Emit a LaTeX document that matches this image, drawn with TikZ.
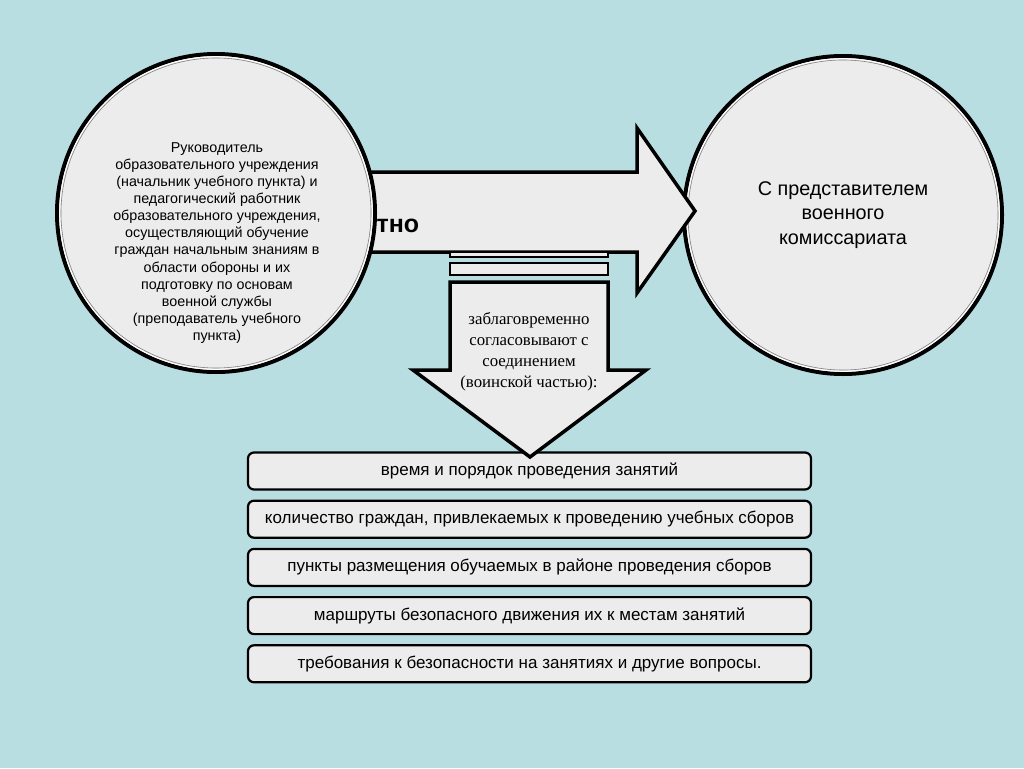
\documentclass[tikz,border=0pt]{standalone}
\usepackage{fontspec}
\setmainfont{Liberation Sans}
\newfontfamily\serifru{Liberation Serif}
\usetikzlibrary{positioning}
\definecolor{bgblue}{RGB}{185,222,225}
\definecolor{dotfill}{RGB}{236,236,236}
\tikzset{
  outline shape/.style={draw=black, line width=3.5pt, fill=dotfill, line join=miter},
  big circle/.style={circle, draw=black, line width=4pt, fill=dotfill,
    minimum size=318pt, inner sep=0pt},
  item box/.style={rectangle, rounded corners=6pt, draw=black, line width=2.2pt,
    fill=dotfill, minimum width=563pt, minimum height=37pt,
    font=\fontsize{17}{20}\selectfont},
}

\begin{document}
\begin{tikzpicture}[x=1pt,y=-1pt]
			% background
			\fill[bgblue] (0,0) rectangle (1024,768);
			\useasboundingbox (0,0) rectangle (1024,768);
			% right circle
			\node[big circle, align=center, font=\fontsize{19.8}{24.5}\selectfont] (voenkom) at (843,215)
				{С представителем\\военного\\комиссариата};
			\draw[white, line width=1pt] (voenkom.center) circle[radius=156.3pt];
			\draw[gray, line width=0.6pt] (voenkom.center) circle[radius=155pt];
			% main arrow
			\draw[outline shape] (300,172) -- (637,172) -- (637,128) -- (695,211)
				-- (637,293) -- (637,252) -- (300,252) -- cycle;
			\node[anchor=west, font=\fontsize{25}{28}\bfseries] (sovm) at (373,226) {тно};
			% left circle
			\node[big circle] (rukovod) at (216,213) {};
			\draw[white, line width=1pt] (rukovod.center) circle[radius=156.3pt];
			\draw[gray, line width=0.6pt] (rukovod.center) circle[radius=155pt];
			\node[align=center, font=\fontsize{14.3}{17.1}\selectfont] (rukovodtxt) at (217,243)
				{Руководитель\\образовательного учреждения\\(начальник учебного пункта) и\\педагогический работник\\образовательного учреждения,\\осуществляющий обучение\\граждан начальным знаниям в\\области обороны и их\\подготовку по основам\\военной службы\\(преподаватель учебного\\пункта)};
			% bars under the arrow
			\draw[outline shape, line width=2.8pt] (450,252) rectangle (608,257);
			\draw[outline shape, line width=2.8pt] (450,263) rectangle (608,275);
			% list of items
			\foreach \i/\txt in {1/{время и порядок проведения занятий},
					2/{количество граждан, привлекаемых к проведению учебных сборов},
					3/{пункты размещения обучаемых в районе проведения сборов},
					4/{маршруты безопасного движения их к местам занятий},
					5/{требования к безопасности на занятиях и другие вопросы.}} {
				\node[item box] (item\i) at (529.5,471+48.2*\i-48.2) {\txt};
			}
			% down arrow
			\draw[outline shape] (450,282) -- (608,282) -- (608,370) -- (646,370)
				-- (530,457) -- (413,370) -- (450,370) -- cycle;
			\node[align=center, font=\serifru\fontsize{16.8}{21}\selectfont] (soglas) at (529,352)
				{заблаговременно\\согласовывают с\\соединением\\(воинской частью):};
		\end{tikzpicture}
\end{document}
